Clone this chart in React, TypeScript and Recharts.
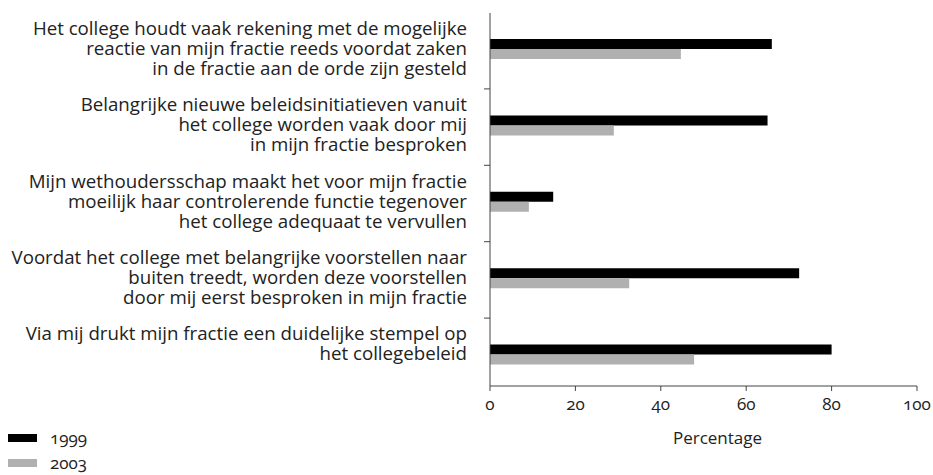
import React from "react";
import { BarChart, Bar, XAxis, YAxis, Legend } from "recharts";

const categories: string[][] = [
  ["Het college houdt vaak rekening met de mogelijke", "reactie van mijn fractie reeds voordat zaken", "in de fractie aan de orde zijn gesteld"],
  ["Belangrijke nieuwe beleidsinitiatieven vanuit", "het college worden vaak door mij", "in mijn fractie besproken"],
  ["Mijn wethoudersschap maakt het voor mijn fractie", "moeilijk haar controlerende functie tegenover", "het college adequaat te vervullen"],
  ["Voordat het college met belangrijke voorstellen naar", "buiten treedt, worden deze voorstellen", "door mij eerst besproken in mijn fractie"],
  ["Via mij drukt mijn fractie een duidelijke stempel op", "het collegebeleid"],
];
const values1999 = [66, 65, 14.8, 72.4, 80];
const values2003 = [44.7, 29, 9.1, 32.6, 47.8];
const xTicks = [0, 20, 40, 60, 80, 100];

const data = categories.map((c, i) => ({
  name: c.join("|"),
  y1999: values1999[i],
  y2003: values2003[i],
}));

const FONT = "'Open Sans', sans-serif";
const FS = 18.7;
const W = 933;
const H = 475;
const M = { top: 13, right: 16, left: 0, bottom: 0 };
const Y_WIDTH = 490;
const LEGEND_H = 50;
const X_HEIGHT = 39;
const PAD = { top: -2, bottom: -7 };
const plotTop = M.top;
const plotBottom = H - M.bottom - LEGEND_H - X_HEIGHT;
const band = (plotBottom - plotTop - PAD.top - PAD.bottom) / categories.length;
const numStyle: React.CSSProperties = { fontVariantNumeric: "oldstyle-nums" };

const YTick = (props: any) => {
  const { x, y, payload, index } = props;
  const lines: string[] = String(payload.value).split("|");
  const axisX = x + 8;
  return (
    <g>
      {index > 0 && (
        <line x1={axisX - 6} x2={axisX} y1={y - band / 2 + 1.5} y2={y - band / 2 + 1.5} stroke="#444" strokeWidth={1} />
      )}
      {lines.map((l, i) => (
        <text
          key={i}
          x={axisX - 23}
          y={y - 22 + i * 20}
          textAnchor="end"
          dominantBaseline="central"
          fontFamily={FONT}
          fontSize={FS}
          fill="#222"
        >
          {l}
        </text>
      ))}
    </g>
  );
};

const LegendContent = () => (
  <div style={{ fontFamily: FONT, fontSize: 17, color: "#222", ...numStyle }}>
    {[
      { label: "1999", color: "#000" },
      { label: "2003", color: "#b0b0b0" },
    ].map((it) => (
      <div key={it.label} style={{ display: "flex", alignItems: "center", height: 25 }}>
        <span style={{ display: "inline-block", width: 29, height: 8, background: it.color, marginRight: 13 }} />
        <span>{it.label}</span>
      </div>
    ))}
  </div>
);

export default function App() {
  return (
    <div style={{ position: "absolute", left: 0, top: 0, background: "#fff" }}>
      <BarChart width={W} height={H} data={data} layout="vertical" margin={M} barGap={0} barSize={10}>
        <XAxis
          xAxisId="b"
          type="number"
          domain={[0, 100]}
          ticks={xTicks}
          height={X_HEIGHT}
          stroke="#444"
          tickSize={5}
          tick={{ fontFamily: FONT, fontSize: 17, fill: "#222", dy: 5, style: numStyle }}
          label={{ value: "Percentage", position: "insideBottom", offset: -19, dx: 14, fontFamily: FONT, fontSize: 17, fill: "#222" }}
        />
        <XAxis xAxisId="t" type="number" orientation="top" domain={[0, 100]} height={0} tick={false} tickLine={false} stroke="#777" />
        <YAxis yAxisId="l" type="category" dataKey="name" width={Y_WIDTH} stroke="#444" tickLine={false} tick={<YTick />} interval={0} padding={PAD} />
        <YAxis yAxisId="r" type="category" dataKey="name" orientation="right" width={0} tick={false} tickLine={false} stroke="#777" />
        <Legend
          layout="vertical"
          verticalAlign="bottom"
          align="center"
          content={<LegendContent />}
          wrapperStyle={{ left: 8, bottom: 0, width: 200, height: LEGEND_H }}
        />
        <Bar xAxisId="b" yAxisId="l" dataKey="y1999" fill="#000" isAnimationActive={false} />
        <Bar xAxisId="b" yAxisId="l" dataKey="y2003" fill="#b0b0b0" isAnimationActive={false} />
      </BarChart>
    </div>
  );
}
